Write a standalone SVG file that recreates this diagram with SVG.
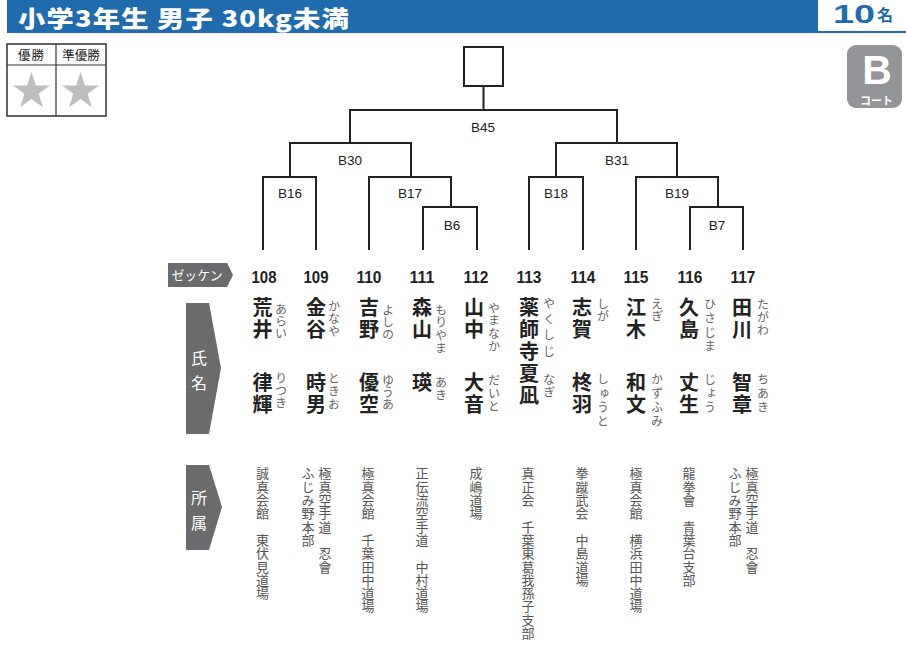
<svg xmlns="http://www.w3.org/2000/svg" width="906" height="655" viewBox="0 0 906 655">
<defs>
<style>
.ln{fill:none;stroke:#222;stroke-width:2}
.bl{font-family:"Liberation Sans",Arial,sans-serif;font-size:13.5px;fill:#222;text-anchor:middle}
.num{font-family:"Liberation Sans",Arial,sans-serif;font-size:17px;font-weight:bold;fill:#222;text-anchor:middle}
.nm{font-family:"Noto Sans CJK JP",sans-serif;font-size:20px;font-weight:bold;fill:#222;writing-mode:vertical-rl;letter-spacing:2px}
.fu{font-family:"Noto Sans CJK JP",sans-serif;font-size:12px;fill:#666;writing-mode:vertical-rl}
.af{font-family:"Noto Sans CJK JP",sans-serif;font-size:13px;fill:#555;writing-mode:vertical-rl;letter-spacing:0.3px}
.tag{fill:#6b6b6e}
.tagt{font-family:"Noto Sans CJK JP",sans-serif;fill:#fff;text-anchor:middle}
.star{fill:#bcbec0}
</style>
</defs>

<g id="header">
<rect x="7" y="0" width="899" height="33" fill="#1f6bad"/>
<text x="18" y="26.8" font-family="'Noto Sans CJK JP',sans-serif" font-size="23" font-weight="900" fill="#fff" letter-spacing="1" textLength="332" lengthAdjust="spacingAndGlyphs">小学3年生 男子 30kg未満</text>
<rect x="818" y="0" width="88" height="31" fill="#fff"/>
<text x="833" y="23" font-family="'Liberation Sans',Arial,sans-serif" font-size="26" font-weight="bold" fill="#1f6bad" textLength="42" lengthAdjust="spacingAndGlyphs">10</text>
<text x="877" y="21" font-family="'Noto Sans CJK JP',sans-serif" font-size="16" font-weight="bold" fill="#1f6bad">名</text>
</g>

<g id="award-box">
<rect x="7" y="44" width="99" height="72" fill="#fff" stroke="#333" stroke-width="1.5"/>
<line x1="7" y1="65" x2="106" y2="65" stroke="#333" stroke-width="1.2"/>
<line x1="56" y1="44" x2="56" y2="116" stroke="#333" stroke-width="1.2"/>
<text x="31.5" y="60" font-family="'Noto Sans CJK JP',sans-serif" font-size="12.5" fill="#222" text-anchor="middle" letter-spacing="1">優勝</text>
<text x="81" y="60" font-family="'Noto Sans CJK JP',sans-serif" font-size="12.5" fill="#222" text-anchor="middle">準優勝</text>
<polygon class="star" transform="translate(31.5,91.5)" points="0,-19.5 4.4,-6 18.5,-6 7.1,2.3 11.5,15.8 0,7.5 -11.5,15.8 -7.1,2.3 -18.5,-6 -4.4,-6"/>
<polygon class="star" transform="translate(80.5,91.5)" points="0,-19.5 4.4,-6 18.5,-6 7.1,2.3 11.5,15.8 0,7.5 -11.5,15.8 -7.1,2.3 -18.5,-6 -4.4,-6"/>
</g>

<g id="court-badge">
<rect x="847" y="45" width="55" height="63" rx="9" fill="#939598"/>
<text x="877" y="84" font-family="'Liberation Sans',Arial,sans-serif" font-size="41" font-weight="bold" fill="#fff" text-anchor="middle">B</text>
<text x="876.5" y="105" font-family="'Noto Sans CJK JP',sans-serif" font-size="11" font-weight="bold" fill="#fff" text-anchor="middle">コート</text>
</g>

<g id="winner-box">
<rect x="464" y="47" width="39" height="39" fill="#fff" stroke="#222" stroke-width="2"/>
</g>

<g id="connectors">
<path class="ln" d="M483.5,86 V110 M350,143 V110 H617 V143"/>
<path class="ln" d="M290,177 V143 H411 V177"/>
<path class="ln" d="M556,177 V143 H677 V177"/>
<path class="ln" d="M263,250 V177 H316 V250"/>
<path class="ln" d="M369,250 V177 H451 V207"/>
<path class="ln" d="M423,250 V207 H477 V250"/>
<path class="ln" d="M529,250 V177 H583 V250"/>
<path class="ln" d="M636,250 V177 H718 V207"/>
<path class="ln" d="M690,250 V207 H743 V250"/>
</g>

<g id="match-labels">
<text class="bl" x="483" y="132">B45</text>
<text class="bl" x="350" y="165">B30</text>
<text class="bl" x="617" y="165">B31</text>
<text class="bl" x="290" y="198">B16</text>
<text class="bl" x="410" y="198">B17</text>
<text class="bl" x="556" y="198">B18</text>
<text class="bl" x="677" y="198">B19</text>
<text class="bl" x="452" y="230">B6</text>
<text class="bl" x="717" y="230">B7</text>
</g>

<g id="row-labels">
<polygon class="tag" points="168,263 227,263 233,275 227,287 168,287"/>
<text class="tagt" x="197" y="280" font-size="13" textLength="51" lengthAdjust="spacingAndGlyphs">ゼッケン</text>
<polygon class="tag" points="186,303 209,303 221,368 209,434 186,434"/>
<text class="tagt" x="199" y="364" font-size="16">氏</text>
<text class="tagt" x="199" y="389" font-size="16">名</text>
<polygon class="tag" points="186,465 209,465 222,507 209,550 186,550"/>
<text class="tagt" x="199" y="504" font-size="16">所</text>
<text class="tagt" x="199" y="529" font-size="16">属</text>
</g>

<g id="p108">
<text class="num" x="264" y="283" textLength="25" lengthAdjust="spacingAndGlyphs">108</text>
<text class="nm" x="262.5" y="297">荒井</text>
<text class="nm" x="262.5" y="372">律輝</text>
<text class="fu" x="281" y="303">あらい</text>
<text class="fu" x="281" y="372" letter-spacing="0.5">りつき</text>
<text class="af" x="262.5" y="467">誠真会館　東伏見道場</text>
</g>

<g id="p109">
<text class="num" x="316" y="283" textLength="25" lengthAdjust="spacingAndGlyphs">109</text>
<text class="nm" x="316" y="297">金谷</text>
<text class="nm" x="316" y="372">時男</text>
<text class="fu" x="334" y="300" letter-spacing="0.5">かなや</text>
<text class="fu" x="334" y="372" letter-spacing="1">ときお</text>
<text class="af" x="325" y="467">極真空手道　忍會</text>
<text class="af" x="308" y="467" letter-spacing="1.5">ふじみ野本部</text>
</g>

<g id="p110">
<text class="num" x="369" y="283" textLength="25" lengthAdjust="spacingAndGlyphs">110</text>
<text class="nm" x="369" y="297">吉野</text>
<text class="nm" x="369" y="372">優空</text>
<text class="fu" x="388" y="304">よしの</text>
<text class="fu" x="388" y="374">ゆうあ</text>
<text class="af" x="368" y="467">極真会館　千葉田中道場</text>
</g>

<g id="p111">
<text class="num" x="422" y="283" textLength="25" lengthAdjust="spacingAndGlyphs">111</text>
<text class="nm" x="422" y="297">森山</text>
<text class="nm" x="422" y="372">瑛</text>
<text class="fu" x="441" y="304" letter-spacing="0.7">もりやま</text>
<text class="fu" x="441" y="376" letter-spacing="1">あき</text>
<text class="af" x="422" y="467">正伝流空手道　中村道場</text>
</g>

<g id="p112">
<text class="num" x="476" y="283" textLength="25" lengthAdjust="spacingAndGlyphs">112</text>
<text class="nm" x="474" y="297">山中</text>
<text class="nm" x="474" y="372">大音</text>
<text class="fu" x="494" y="302" letter-spacing="0.7">やまなか</text>
<text class="fu" x="494" y="374" letter-spacing="1">だいと</text>
<text class="af" x="476" y="467">成嶋道場</text>
</g>

<g id="p113">
<text class="num" x="529" y="283" textLength="25" lengthAdjust="spacingAndGlyphs">113</text>
<text class="nm" x="529" y="297" letter-spacing="3.5">薬師寺夏凪</text>
<text class="fu" x="549" y="297" letter-spacing="4.2">やくしじ</text>
<text class="fu" x="549" y="373" letter-spacing="1.5">なぎ</text>
<text class="af" x="528" y="467">真正会　千葉東葛我孫子支部</text>
</g>

<g id="p114">
<text class="num" x="583" y="283" textLength="25" lengthAdjust="spacingAndGlyphs">114</text>
<text class="nm" x="582" y="297">志賀</text>
<text class="nm" x="582" y="372">柊羽</text>
<text class="fu" x="603" y="298">しが</text>
<text class="fu" x="603" y="373" letter-spacing="2.2">しゅうと</text>
<text class="af" x="582" y="467">拳蹴武会　中島道場</text>
</g>

<g id="p115">
<text class="num" x="636" y="283" textLength="25" lengthAdjust="spacingAndGlyphs">115</text>
<text class="nm" x="636" y="297">江木</text>
<text class="nm" x="636" y="372">和文</text>
<text class="fu" x="657" y="298">えぎ</text>
<text class="fu" x="657" y="373" letter-spacing="2.2">かずふみ</text>
<text class="af" x="636" y="467">極真会館　横浜田中道場</text>
</g>

<g id="p116">
<text class="num" x="690" y="283" textLength="25" lengthAdjust="spacingAndGlyphs">116</text>
<text class="nm" x="689" y="297">久島</text>
<text class="nm" x="689" y="372">丈生</text>
<text class="fu" x="710" y="298" letter-spacing="2.2">ひさじま</text>
<text class="fu" x="710" y="373" letter-spacing="2">じょう</text>
<text class="af" x="689" y="467">龍拳會　青葉台支部</text>
</g>

<g id="p117">
<text class="num" x="743" y="283" textLength="25" lengthAdjust="spacingAndGlyphs">117</text>
<text class="nm" x="742" y="297">田川</text>
<text class="nm" x="742" y="372">智章</text>
<text class="fu" x="763" y="298" letter-spacing="1.3">たがわ</text>
<text class="fu" x="763" y="373" letter-spacing="2">ちあき</text>
<text class="af" x="752" y="467">極真空手道　忍會</text>
<text class="af" x="735" y="467" letter-spacing="1.5">ふじみ野本部</text>
</g>
</svg>
